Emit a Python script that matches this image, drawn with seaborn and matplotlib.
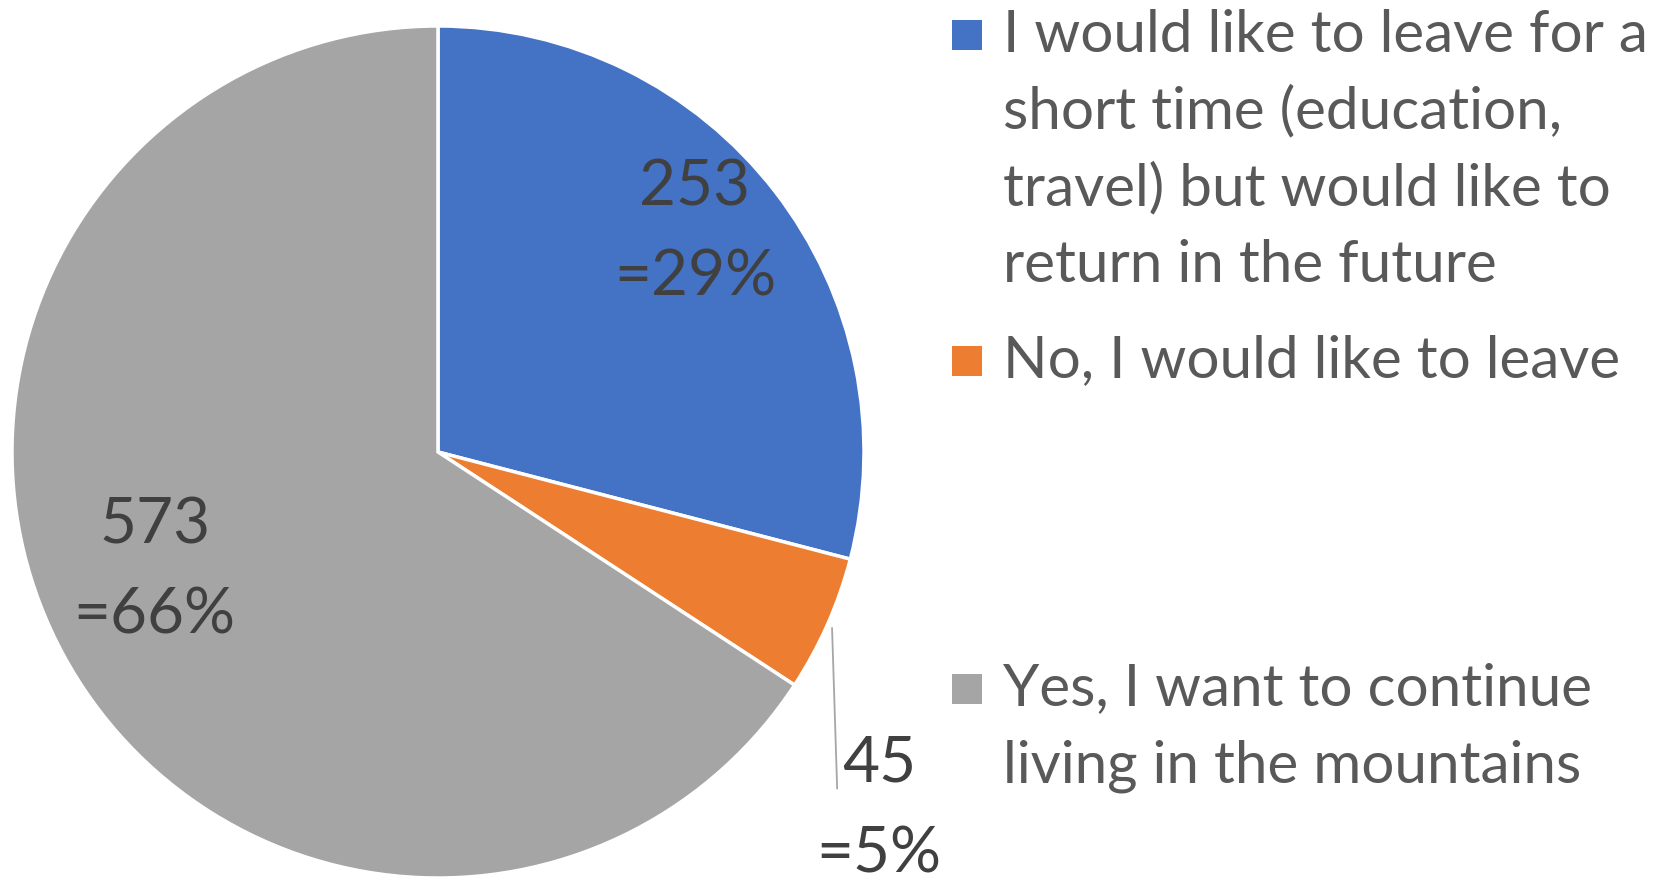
import matplotlib
matplotlib.use("Agg")
import matplotlib.pyplot as plt
import seaborn as sns
from matplotlib.patches import Rectangle

categories = [
    "I would like to leave for a\nshort time (education,\ntravel) but would like to\nreturn in the future",
    "No, I would like to leave",
    "Yes, I want to continue\nliving in the mountains",
]
counts = [253, 45, 573]
percents = ["29%", "5%", "66%"]
colors = ["#4472C4", "#ED7D31", "#A5A5A5"]

sns.set_theme(style="white")
plt.rcParams["font.family"] = ["Lato", "DejaVu Sans"]

W, H = 1676, 881
fig = plt.figure(figsize=(W / 100, H / 100), dpi=100)
# pie centre ~ (438, 452) px, radius ~ 426 px
cx, cy, r = 438, 452, 426
ax = fig.add_axes([(cx - r) / W, (H - cy - r) / H, 2 * r / W, 2 * r / H])

wedges, _ = ax.pie(counts, colors=colors, startangle=90, counterclock=False,
                   wedgeprops=dict(edgecolor="white", linewidth=2.5))
ax.set_xlim(-1, 1)
ax.set_ylim(-1, 1)
ax.axis("off")

label_color = "#404040"
label_pos = [(0.603, 0.515), (1.035, -0.838), (-0.665, -0.278)]
for (x, y), n, p in zip(label_pos, counts, percents):
    ax.text(x, y + 0.106, str(n), ha="center", va="center", fontsize=46, color=label_color)
    ax.text(x, y - 0.106, "=" + p, ha="center", va="center", fontsize=46, color=label_color)

# leader line for the small slice
ax.plot([0.925, 0.937], [-0.413, -0.79], color="#A6A6A6", lw=1.3, clip_on=False)

# legend drawn as separate blocks (Excel spreads them out vertically)
legend_color = "#595959"
first_line = [35, 361, 689]
line_step = 77
for cat, col, y0 in zip(categories, colors, first_line):
    fig.patches.append(Rectangle((952 / W, (H - y0 - 15) / H), 30 / W, 30 / H,
                                 transform=fig.transFigure, facecolor=col, edgecolor="none"))
    for i, line in enumerate(cat.split("\n")):
        fig.text(1003 / W, (H - y0 - i * line_step) / H, line, ha="left", va="center",
                 fontsize=42, color=legend_color)

fig.savefig("out.png", dpi=100)
